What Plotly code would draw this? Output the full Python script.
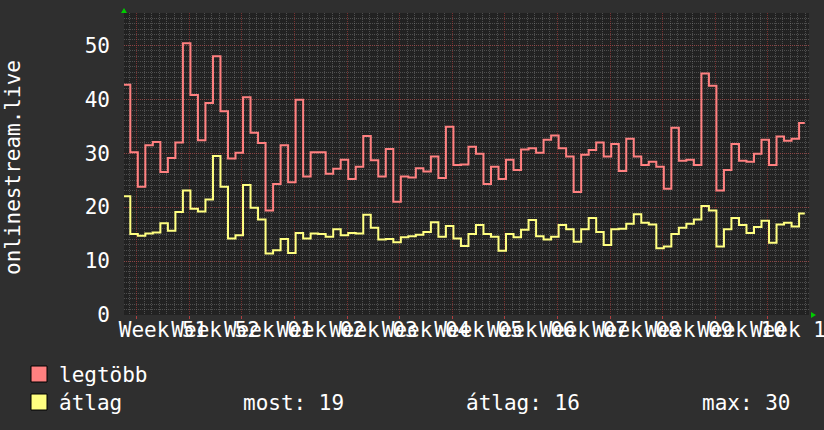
import plotly.graph_objects as go

# ---------------- data ----------------
week_labels = ["Week 51", "Week 52", "Week 01", "Week 02", "Week 03", "Week 04", "Week 05",
               "Week 06", "Week 07", "Week 08", "Week 09", "Week 10", "Week 11"]

legtobb = [42.7,
           30.2, 23.8, 31.5, 32.1, 26.5, 29.1, 32.0, 50.4, 40.8, 32.4,
           39.3, 48.0, 37.8, 29.0, 30.1, 40.4, 33.8, 31.9, 19.4, 24.3,
           31.5, 24.6, 39.9, 25.7, 30.2, 30.2, 26.2, 27.1, 28.8, 25.2,
           27.5, 33.2, 28.7, 25.7, 30.8, 21.0,
           25.7, 25.5, 27.2, 26.6, 29.4, 25.4, 34.9, 27.8, 27.9, 31.2,
           29.9, 24.3, 27.5, 25.2, 28.8, 26.9, 30.7, 30.9, 30.1, 32.5,
           33.3, 30.9, 29.4, 22.8, 29.7, 30.6, 32.0, 29.4, 31.7, 26.7,
           32.7, 29.4, 27.8, 28.4, 27.5, 23.4, 34.7, 28.6, 28.8, 27.8,
           44.8, 42.5, 23.1, 26.9, 31.7, 28.6, 28.4, 29.9, 32.5, 27.8,
           33.1, 32.3, 32.7, 35.6]

atlag = [22.0,
         15.0, 14.7, 15.1, 15.3, 17.0, 15.6, 19.1, 23.1, 19.7, 19.2,
         21.4, 29.5, 23.8, 14.2, 14.8, 24.1, 19.9, 17.7, 11.4, 12.0,
         14.1, 11.5, 15.2, 14.2, 15.1, 15.0, 14.5, 15.9, 14.8, 15.2,
         15.1, 18.6, 16.2, 14.0, 14.1, 13.5,
         14.4, 14.6, 14.9, 15.4, 17.2, 14.5, 16.5, 14.2, 12.8, 15.0,
         16.7, 15.0, 14.5, 11.9, 15.0, 14.4, 15.8, 17.6, 14.6, 14.0,
         14.5, 16.7, 15.9, 13.6, 15.9, 18.0, 15.4, 13.0, 15.9, 16.0,
         16.9, 18.7, 17.1, 16.8, 12.4, 12.7, 15.0, 16.2, 16.9, 17.7,
         20.2, 19.4, 12.7, 15.9, 18.0, 16.7, 15.2, 16.3, 17.5, 13.4,
         16.8, 17.1, 16.4, 18.8]

y_ticks = [0, 10, 20, 30, 40, 50]
legend_stats = ["most: 19", "átlag: 16", "max: 30"]

# ---------------- time axis (days from left edge) ----------------
X_MAX = 91.16          # visible span in days
WEEK_START = 1.69      # first Monday-midnight inside the window
FIRST_STEP = 0.84      # first daily boundary of the data
DATA_END = 90.6        # where the last sample ends
Y_MAX = 56

n = len(legtobb)
xs = [0.0] + [FIRST_STEP + i for i in range(n - 1)] + [DATA_END]
y_red = legtobb + [legtobb[-1]]
y_yel = atlag + [atlag[-1]]
week_mid = [WEEK_START + 3.5 + 7 * i for i in range(len(week_labels))]

FONT = "DejaVu Sans Mono"
FS = 21
WHITE = "#ffffff"
RED = "#ff8080"
YEL = "#ffff80"

fig = go.Figure()
fig.add_trace(go.Scatter(x=xs, y=y_red, mode="lines", line=dict(color=RED, width=2, shape="hv"),
                         xaxis="x", yaxis="y", showlegend=False, hoverinfo="skip"))
fig.add_trace(go.Scatter(x=xs, y=y_yel, mode="lines", line=dict(color=YEL, width=2, shape="hv"),
                         xaxis="x2", yaxis="y", showlegend=False, hoverinfo="skip"))

L, R, T, B = 124, 15, 13, 115
W, H = 824, 430
PW, PH = W - L - R, H - T - B


def px(x):
    return (x - L) / PW


def py(y):
    return (H - B - y) / PH


MGRID = "rgba(190,60,60,0.55)"
GRID = "rgba(150,150,150,0.38)"

fig.update_layout(
    width=W, height=H,
    margin=dict(l=L, r=R, t=T, b=B, autoexpand=False),
    paper_bgcolor="#2f2f2f",
    plot_bgcolor="#222222",
    font=dict(family=FONT, size=FS, color=WHITE),
    xaxis=dict(range=[0, X_MAX], tickmode="linear", tick0=WEEK_START, dtick=7,
               showticklabels=False, showgrid=True, gridcolor=MGRID, griddash="1px,1px",
               gridwidth=1, ticks="outside", ticklen=3, tickcolor="#b04040",
               minor=dict(tick0=WEEK_START, dtick=1, showgrid=True, gridcolor=GRID,
                          griddash="1px,1px", gridwidth=1),
               zeroline=False, showline=False, automargin=False),
    xaxis2=dict(range=[0, X_MAX], overlaying="x", anchor="y", side="bottom",
                tickmode="array", tickvals=week_mid, ticktext=week_labels, tickangle=0,
                tickfont=dict(family=FONT, size=FS, color=WHITE), showgrid=False,
                ticks="", zeroline=False, showline=False, ticklabeloverflow="allow",
                automargin=False),
    yaxis=dict(range=[0, Y_MAX], tickmode="array", tickvals=y_ticks,
               tickfont=dict(family=FONT, size=FS, color=WHITE),
               showgrid=True, gridcolor=MGRID, griddash="1px,1px", gridwidth=1,
               minor=dict(dtick=1, tick0=0, showgrid=True, gridcolor=GRID,
                          griddash="1px,1px", gridwidth=1),
               ticks="", zeroline=False, showline=False, ticklabelstandoff=13,
               automargin=False),
)

annotations = [
    dict(text="onlinestream.live", textangle=-90, xref="paper", yref="paper",
         x=px(13), y=py(167), xanchor="center", yanchor="middle", showarrow=False,
         font=dict(family=FONT, size=FS, color=WHITE)),
    dict(text="legtöbb", xref="paper", yref="paper", x=px(57), y=py(375),
         xanchor="left", yanchor="middle", showarrow=False,
         font=dict(family=FONT, size=FS, color=WHITE)),
    dict(text="átlag", xref="paper", yref="paper", x=px(57), y=py(403),
         xanchor="left", yanchor="middle", showarrow=False,
         font=dict(family=FONT, size=FS, color=WHITE)),
]
for txt, xp in zip(legend_stats, [241, 464, 700]):
    annotations.append(dict(text=txt, xref="paper", yref="paper", x=px(xp), y=py(403),
                            xanchor="left", yanchor="middle", showarrow=False,
                            font=dict(family=FONT, size=FS, color=WHITE)))
fig.update_layout(annotations=annotations)

shapes = [
    dict(type="rect", xref="paper", yref="paper", x0=px(31), x1=px(47), y0=py(382), y1=py(366),
         fillcolor=RED, line=dict(color="#000000", width=1)),
    dict(type="rect", xref="paper", yref="paper", x0=px(31), x1=px(47), y0=py(410), y1=py(394),
         fillcolor=YEL, line=dict(color="#000000", width=1)),
    # rrdtool style axis arrows
    dict(type="path", xref="paper", yref="paper",
         path=f"M {px(121)} {py(13)} L {px(127)} {py(13)} L {px(124)} {py(8)} Z",
         fillcolor="#00cc00", line=dict(color="#00cc00", width=0)),
    dict(type="path", xref="paper", yref="paper",
         path=f"M {px(811)} {py(312)} L {px(811)} {py(318)} L {px(816)} {py(315)} Z",
         fillcolor="#00cc00", line=dict(color="#00cc00", width=0)),
]
fig.update_layout(shapes=shapes)

fig.write_html("out.html",
               config={"displayModeBar": False, "staticPlot": True},
               post_script="document.body.style.margin='0px';document.body.style.overflow='hidden';")
